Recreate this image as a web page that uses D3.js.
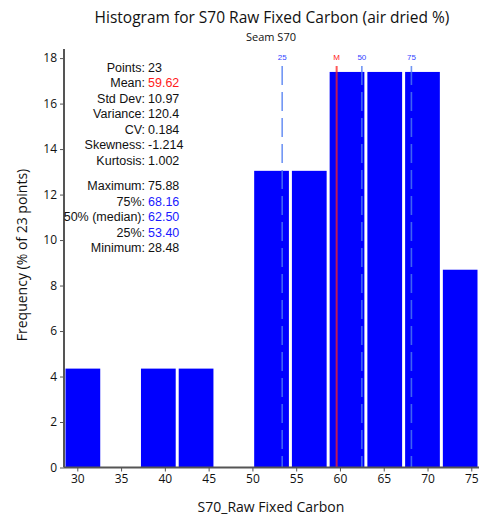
<!DOCTYPE html>
<html>
<head>
<meta charset="utf-8">
<script src="https://cdn.jsdelivr.net/npm/d3@7"></script>
<style>
  html, body { margin: 0; padding: 0; background: #fff; }
  svg { display: block; }
</style>
</head>
<body>
<svg id="chart" width="490" height="516"></svg>
<script>
// Histogram data: bin edges and point counts per bin
const binEdges = [28.48, 32.79, 37.10, 41.41, 45.72, 50.03, 54.34, 58.65, 62.96, 67.27, 71.58, 75.88];
const binCounts = [1, 0, 1, 1, 0, 3, 3, 4, 4, 4, 2];
const totalPoints = 23;

const xTicks = [30, 35, 40, 45, 50, 55, 60, 65, 70, 75];
const yTicks = [0, 2, 4, 6, 8, 10, 12, 14, 16, 18];

// Summary statistics
const statLabels = ["Points:", "Mean:", "Std Dev:", "Variance:", "CV:", "Skewness:", "Kurtosis:"];
const statValues = ["23", "59.62", "10.97", "120.4", "0.184", "-1.214", "1.002"];
const pctLabels = ["Maximum:", "75%:", "50% (median):", "25%:", "Minimum:"];
const pctValues = ["75.88", "68.16", "62.50", "53.40", "28.48"];

// Reference markers (quartiles and mean)
const markerNames = ["25", "M", "50", "75"];
const markerValues = [53.40, 59.62, 62.50, 68.16];

const svg = d3.select("#chart");
const plotLeft = 64, plotRight = 479, plotTop = 49, plotBottom = 467.5;

const x = d3.scaleLinear().domain([28.48, 75.88]).range([plotLeft, plotRight]);
const y = d3.scaleLinear().domain([0, 18.4]).range([plotBottom, plotTop]);

const bins = binCounts.map((c, i) => ({ x0: binEdges[i], x1: binEdges[i + 1], pct: c / totalPoints * 100 }));

// Bars
svg.append("g").selectAll("rect").data(bins.filter(b => b.pct > 0)).join("rect")
  .attr("x", d => x(d.x0) + 1.5)
  .attr("width", d => x(d.x1) - x(d.x0) - 3)
  .attr("y", d => y(d.pct))
  .attr("height", d => y(0) - y(d.pct))
  .attr("fill", "#0000ff");

// Marker lines
const mk = svg.append("g");
markerNames.forEach((name, i) => {
  const isMean = name === "M";
  const xv = x(markerValues[i]);
  mk.append("line")
    .attr("x1", xv).attr("x2", xv)
    .attr("y1", 66).attr("y2", plotBottom)
    .attr("stroke", isMean ? "#ff2020" : "#4d7cf0")
    .attr("stroke-opacity", isMean ? 0.75 : 0.8)
    .attr("stroke-width", isMean ? 2 : 1.6)
    .attr("stroke-dasharray", isMean ? null : "19,7");
  mk.append("text")
    .attr("x", xv).attr("y", 60)
    .attr("text-anchor", "middle")
    .attr("font-family", "Liberation Sans, Arial, sans-serif")
    .attr("font-size", 8)
    .attr("fill", isMean ? "#ff2020" : "#3344ff")
    .text(name);
});

// Axes
const axisColor = "#555";
const xAxis = svg.append("g").attr("transform", `translate(0,${plotBottom})`)
  .call(d3.axisBottom(x).tickValues(xTicks).tickSize(4).tickPadding(3));
const yAxis = svg.append("g").attr("transform", `translate(${plotLeft},0)`)
  .call(d3.axisLeft(y).tickValues(yTicks).tickSize(4).tickPadding(3));
[xAxis, yAxis].forEach(g => {
  g.select(".domain").attr("stroke", axisColor).attr("stroke-width", 2);
  g.selectAll(".tick line").attr("stroke", axisColor);
  g.selectAll(".tick text").attr("fill", "#111")
    .attr("font-family", "Open Sans, sans-serif").attr("font-size", 12);
});
xAxis.select(".domain").attr("d", `M${plotLeft},0H${plotRight}`);
yAxis.select(".domain").attr("d", `M0,${plotTop}V${plotBottom}`);

// Titles
svg.append("text").attr("x", 272).attr("y", 23).attr("text-anchor", "middle")
  .attr("font-family", "Open Sans, sans-serif").attr("font-size", 15.5).attr("fill", "#111")
  .text("Histogram for S70 Raw Fixed Carbon (air dried %)");
svg.append("text").attr("x", 271).attr("y", 41).attr("text-anchor", "middle")
  .attr("font-family", "Open Sans, sans-serif").attr("font-size", 11).attr("fill", "#111")
  .text("Seam S70");
svg.append("text").attr("x", 271).attr("y", 512).attr("text-anchor", "middle")
  .attr("font-family", "Open Sans, sans-serif").attr("font-size", 14).attr("fill", "#111")
  .text("S70_Raw Fixed Carbon");
svg.append("text").attr("transform", "translate(27,255) rotate(-90)")
  .attr("text-anchor", "middle")
  .attr("font-family", "Open Sans, sans-serif").attr("font-size", 14).attr("fill", "#111")
  .text("Frequency (% of 23 points)");

// Statistics block
const stats = svg.append("g").attr("font-family", "Liberation Sans, Arial, sans-serif").attr("font-size", 12.5);
const row = 15.55;
function statRow(label, value, yPos, color) {
  stats.append("text").attr("x", 145).attr("y", yPos).attr("text-anchor", "end").attr("fill", "#111").text(label);
  stats.append("text").attr("x", 148).attr("y", yPos).attr("fill", color).text(value);
}
statLabels.forEach((l, i) => statRow(l, statValues[i], 71.5 + i * row, l === "Mean:" ? "#ff1a1a" : "#111"));
pctLabels.forEach((l, i) => statRow(l, pctValues[i], 190 + i * row,
  (l === "Maximum:" || l === "Minimum:") ? "#111" : "#1a1aff"));
</script>
</body>
</html>
